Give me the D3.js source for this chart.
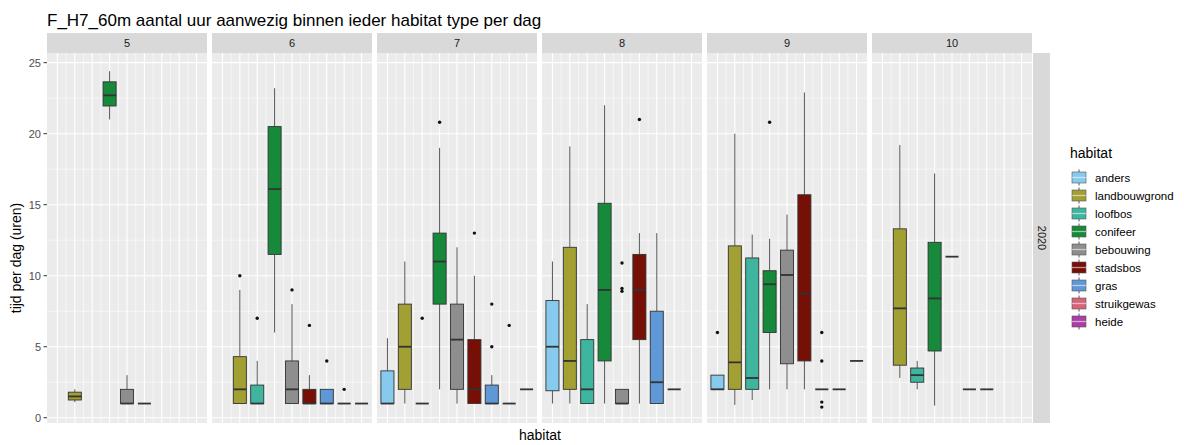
<!DOCTYPE html>
<html><head><meta charset="utf-8">
<script src="https://cdn.jsdelivr.net/npm/d3@7"></script>
<style>body{margin:0;background:#fff}svg{display:block;font-family:"Liberation Sans",Arial,sans-serif}</style>
</head><body><svg id="c" width="1184" height="445"></svg>
<script>
const months = ["5","6","7","8","9","10"];
const habitats = ["anders","landbouwgrond","loofbos","conifeer","bebouwing","stadsbos","gras","struikgewas","heide"];
const colors = ["#86cbee","#a29f33","#3fb5a0","#17893b","#8e8e8e","#760f05","#5f98d6","#d6657a","#ad3ca6"];
const yTicks = [0,5,10,15,20,25];
// each row: [habitat, lower whisker, q1, median, q3, upper whisker, outliers]
const stats5 = [
  ["landbouwgrond",1.1,1.25,1.5,1.8,2.0,[]],
  ["conifeer",21.0,21.95,22.7,23.65,24.4,[]],
  ["bebouwing",1,1,1,2,3,[]],
  ["stadsbos",1,1,1,1,1,[]]
];
const stats6 = [
  ["landbouwgrond",1,1,2,4.3,9,[10]],
  ["loofbos",1,1,1,2.3,4,[7]],
  ["conifeer",6,11.5,16.1,20.5,23.2,[]],
  ["bebouwing",1,1,2,4,8,[9]],
  ["stadsbos",1,1,1,2,3,[6.5]],
  ["gras",1,1,1,2,2,[4]],
  ["struikgewas",1,1,1,1,1,[2]],
  ["heide",1,1,1,1,1,[]]
];
const stats7 = [
  ["anders",1,1,1,3.3,5.6,[]],
  ["landbouwgrond",1,2,5,8,11,[]],
  ["loofbos",1,1,1,1,1,[7]],
  ["conifeer",2,8,11,13,19,[20.8]],
  ["bebouwing",1,2,5.5,8,12,[]],
  ["stadsbos",1,1,2,5.5,10,[13]],
  ["gras",1,1,1,2.3,3,[5,8]],
  ["struikgewas",1,1,1,1,1,[6.5]],
  ["heide",2,2,2,2,2,[]]
];
const stats8 = [
  ["anders",1,1.9,5,8.25,11,[]],
  ["landbouwgrond",1,2,4,12,19.1,[]],
  ["loofbos",1,1,2,5.5,8,[]],
  ["conifeer",1,4,9,15.1,22,[]],
  ["bebouwing",1,1,1,2,2,[10.9,9.1,8.9]],
  ["stadsbos",1,5.5,9,11.5,13,[21]],
  ["gras",1,1,2.5,7.5,13,[]],
  ["struikgewas",2,2,2,2,2,[]]
];
const stats9 = [
  ["anders",2,2,2,3,3,[6]],
  ["landbouwgrond",0.9,2,3.9,12.1,20,[]],
  ["loofbos",1.25,2,2.8,11.25,12.9,[]],
  ["conifeer",2,6,9.4,10.35,12.6,[20.8]],
  ["bebouwing",2,3.8,10.05,11.8,14.3,[]],
  ["stadsbos",2,4,8.75,15.7,22.9,[]],
  ["gras",2,2,2,2,2,[6,4,1.1,0.75]],
  ["struikgewas",2,2,2,2,2,[]],
  ["heide",4,4,4,4,4,[]]
];
const stats10 = [
  ["landbouwgrond",2.8,3.7,7.7,13.3,19.2,[]],
  ["loofbos",2,2.5,3,3.5,4,[]],
  ["conifeer",0.85,4.7,8.4,12.35,17.2,[]],
  ["bebouwing",11.34,11.34,11.34,11.34,11.34,[]],
  ["stadsbos",2,2,2,2,2,[]],
  ["gras",2,2,2,2,2,[]]
];
const panelStats = [stats5,stats6,stats7,stats8,stats9,stats10];

const svg = d3.select("#c");
const L = 47, PW = 160, GAP = 5, TOP = 53, BOT = 423;
const color = d3.scaleOrdinal().domain(habitats).range(colors);
const y = d3.scaleLinear().domain([-0.37,25.68]).range([BOT,TOP]);

// title
svg.append("text").attr("x",L).attr("y",26).attr("font-size",17).attr("fill","#000")
  .text("F_H7_60m aantal uur aanwezig binnen ieder habitat type per dag");

months.forEach((m,i)=>{
  const px = L + i*(PW+GAP);
  const x = d3.scalePoint().domain(habitats).range([px+PW*0.6/9.2, px+PW-PW*0.6/9.2]);
  const bw = x.step()*0.75;
  const g = svg.append("g");
  // strip
  g.append("rect").attr("x",px).attr("y",33).attr("width",PW).attr("height",20).attr("fill","#d9d9d9");
  g.append("text").attr("x",px+PW/2).attr("y",47).attr("text-anchor","middle").attr("font-size",11).attr("fill","#1a1a1a").text(m);
  // panel
  g.append("rect").attr("x",px).attr("y",TOP).attr("width",PW).attr("height",BOT-TOP).attr("fill","#ebebeb");
  // minor y grid
  d3.range(2.5,25.68,5).forEach(v=>{
    g.append("line").attr("x1",px).attr("x2",px+PW).attr("y1",y(v)).attr("y2",y(v)).attr("stroke","#fff").attr("stroke-width",0.55);
  });
  // minor x grid
  habitats.slice(0,-1).forEach((h,k)=>{
    const xv = (x(h)+x(habitats[k+1]))/2;
    g.append("line").attr("x1",xv).attr("x2",xv).attr("y1",TOP).attr("y2",BOT).attr("stroke","#fff").attr("stroke-width",0.55);
  });
  yTicks.forEach(v=>{
    g.append("line").attr("x1",px).attr("x2",px+PW).attr("y1",y(v)).attr("y2",y(v)).attr("stroke","#fff").attr("stroke-width",1.1);
  });
  habitats.forEach(h=>{
    g.append("line").attr("x1",x(h)).attr("x2",x(h)).attr("y1",TOP).attr("y2",BOT).attr("stroke","#fff").attr("stroke-width",1.1);
  });
  // boxes
  panelStats[i].forEach(d=>{
    const [h,lo,q1,med,q3,hi,out] = d;
    const cx = x(h);
    g.append("line").attr("x1",cx).attr("x2",cx).attr("y1",y(hi)).attr("y2",y(q3)).attr("stroke","#555").attr("stroke-width",1);
    g.append("line").attr("x1",cx).attr("x2",cx).attr("y1",y(q1)).attr("y2",y(lo)).attr("stroke","#555").attr("stroke-width",1);
    g.append("rect").attr("x",cx-bw/2).attr("y",y(q3)).attr("width",bw).attr("height",Math.max(0,y(q1)-y(q3)))
      .attr("fill",color(h)).attr("stroke","#333").attr("stroke-width",0.9);
    g.append("line").attr("x1",cx-bw/2).attr("x2",cx+bw/2).attr("y1",y(med)).attr("y2",y(med)).attr("stroke","#333").attr("stroke-width",1.8);
    out.forEach(o=>{
      g.append("circle").attr("cx",cx).attr("cy",y(o)).attr("r",1.7).attr("fill","#111");
    });
  });
});

// y axis
const ax = svg.append("g");
yTicks.forEach(v=>{
  ax.append("line").attr("x1",43.5).attr("x2",L).attr("y1",y(v)).attr("y2",y(v)).attr("stroke","#333").attr("stroke-width",1);
  ax.append("text").attr("x",41).attr("y",y(v)+4).attr("text-anchor","end").attr("font-size",11).attr("fill","#4d4d4d").text(v);
});
svg.append("text").attr("transform","translate(21,258) rotate(-90)").attr("text-anchor","middle").attr("font-size",14).attr("fill","#000").text("tijd per dag (uren)");
svg.append("text").attr("x",540).attr("y",440).attr("text-anchor","middle").attr("font-size",14).attr("fill","#000").text("habitat");

// right strip
const rx = L + 6*PW + 5*GAP + 1;
svg.append("rect").attr("x",rx).attr("y",TOP).attr("width",17).attr("height",BOT-TOP).attr("fill","#d9d9d9");
svg.append("text").attr("transform",`translate(${rx+4.5},${(TOP+BOT)/2}) rotate(90)`).attr("text-anchor","middle").attr("font-size",11).attr("fill","#1a1a1a").text("2020");

// legend
const lg = svg.append("g");
lg.append("text").attr("x",1070).attr("y",158).attr("font-size",14).attr("fill","#000").text("habitat");
habitats.forEach((h,k)=>{
  const cy = 177.5 + 18*k;
  lg.append("line").attr("x1",1079).attr("x2",1079).attr("y1",cy-8).attr("y2",cy+8).attr("stroke","#555").attr("stroke-width",1);
  lg.append("rect").attr("x",1072).attr("y",cy-5.5).attr("width",14).attr("height",11).attr("fill",color(h)).attr("stroke","#555").attr("stroke-width",0.6);
  lg.append("line").attr("x1",1072).attr("x2",1086).attr("y1",cy).attr("y2",cy).attr("stroke","rgba(255,255,255,0.55)").attr("stroke-width",1.3);
  lg.append("text").attr("x",1095).attr("y",cy+4).attr("font-size",11.5).attr("fill","#000").text(h);
});
</script></body></html>
